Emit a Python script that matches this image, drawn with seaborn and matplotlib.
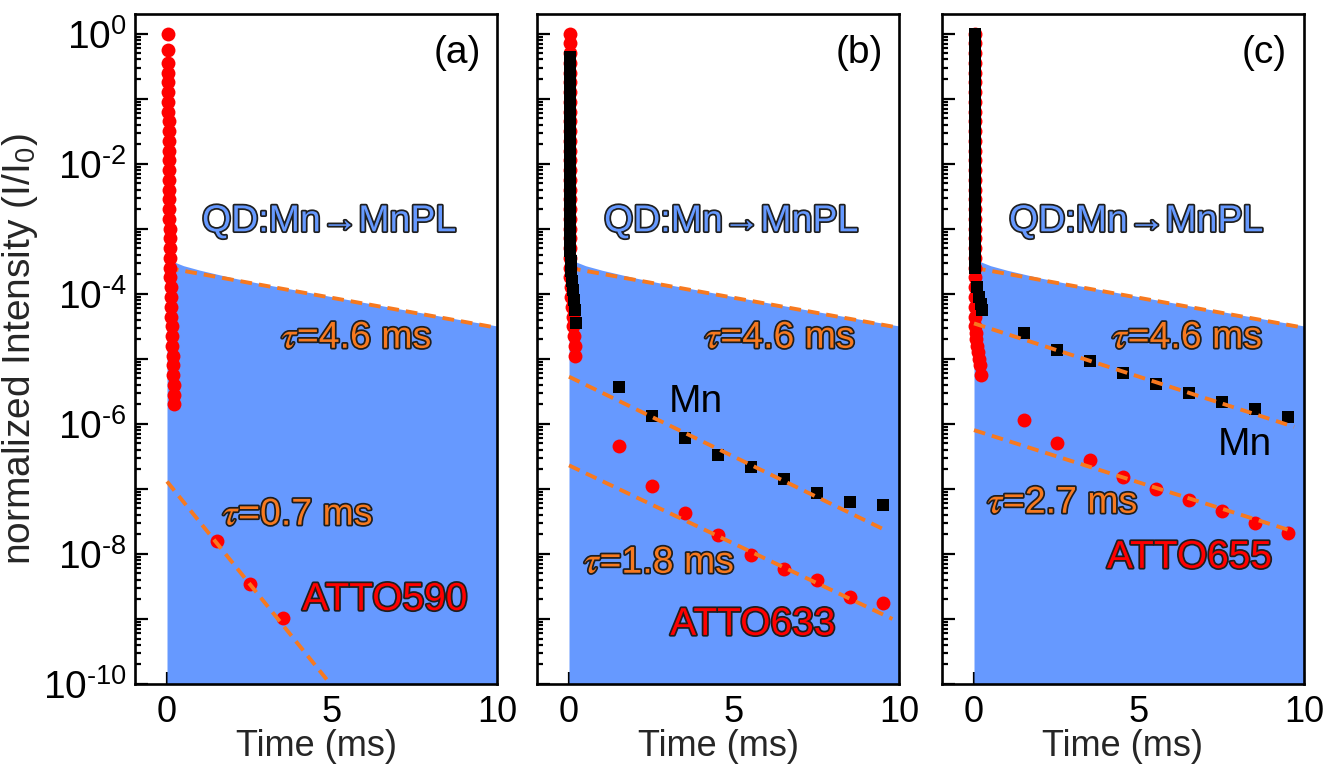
import numpy as np
import matplotlib
matplotlib.use('Agg')
import matplotlib.pyplot as plt
import matplotlib.patheffects as pe
from matplotlib.ticker import FixedLocator, FuncFormatter, MultipleLocator, NullFormatter
import seaborn as sns

# ---- data ----
# QD:Mn -> Mn PL decay (blue filled area)
qd_t = [0, 0.5, 1, 2, 3, 4, 5, 6, 7, 8, 9, 10]
qd_i = [3.4e-4, 2.7e-4, 2.3e-4, 1.75e-4, 1.38e-4, 1.12e-4, 9.0e-5, 7.3e-5, 5.9e-5, 4.8e-5, 3.9e-5, 3.2e-5]

# fast early-time decays (exponent of intensity)
a_red_t = [0.03, 0.03, 0.03, 0.03, 0.04, 0.04, 0.04, 0.04, 0.05, 0.05, 0.05, 0.05, 0.06,
           0.06, 0.06, 0.06, 0.07, 0.07, 0.07, 0.08, 0.08, 0.08, 0.09, 0.09, 0.10, 0.11,
           0.11, 0.12, 0.13, 0.14, 0.15, 0.16, 0.17, 0.18, 0.19, 0.20, 0.21, 0.22]
a_red_log = [0, -0.25, -0.45, -0.6, -0.75, -0.9, -1.05, -1.2, -1.35, -1.5, -1.65, -1.8, -1.95,
             -2.1, -2.25, -2.4, -2.55, -2.7, -2.85, -3.0, -3.15, -3.3, -3.45, -3.6, -3.75, -3.9,
             -4.05, -4.2, -4.35, -4.5, -4.65, -4.8, -4.95, -5.1, -5.25, -5.4, -5.55, -5.7]

b_red_t = [0.03, 0.03, 0.03, 0.03, 0.03, 0.03, 0.03, 0.03, 0.03, 0.03, 0.03, 0.03, 0.03, 0.03,
           0.03, 0.03, 0.03, 0.03, 0.03, 0.03, 0.03, 0.03, 0.03, 0.03, 0.03, 0.04, 0.05, 0.07,
           0.09, 0.11, 0.13, 0.15, 0.17, 0.18]
b_red_log = [0, -0.15, -0.3, -0.45, -0.6, -0.75, -0.9, -1.05, -1.2, -1.35, -1.5, -1.65, -1.8,
             -1.95, -2.1, -2.25, -2.4, -2.55, -2.7, -2.85, -3.0, -3.15, -3.3, -3.45, -3.6, -3.75,
             -3.9, -4.05, -4.2, -4.35, -4.5, -4.65, -4.8, -4.95]
b_blk_t = [0.03, 0.03, 0.03, 0.03, 0.03, 0.03, 0.03, 0.03, 0.03, 0.03, 0.03, 0.03, 0.03, 0.03,
           0.03, 0.03, 0.03, 0.03, 0.03, 0.03, 0.04, 0.05, 0.07, 0.10, 0.13, 0.16, 0.19, 0.21]
b_blk_log = [-0.36, -0.5, -0.65, -0.8, -0.95, -1.1, -1.25, -1.4, -1.55, -1.7, -1.85, -2.0, -2.15,
             -2.3, -2.45, -2.6, -2.75, -2.9, -3.05, -3.2, -3.35, -3.5, -3.65, -3.8, -3.95, -4.1,
             -4.25, -4.45]

c_red_t = [0.02, 0.02, 0.02, 0.02, 0.02, 0.02, 0.02, 0.02, 0.02, 0.02, 0.02, 0.02, 0.02, 0.02,
           0.02, 0.02, 0.02, 0.02, 0.02, 0.02, 0.02, 0.02, 0.02, 0.02, 0.02, 0.02, 0.02, 0.02,
           0.02, 0.02, 0.03, 0.05, 0.07, 0.10, 0.13, 0.16, 0.19, 0.22]
c_red_log = [0, -0.15, -0.3, -0.45, -0.6, -0.75, -0.9, -1.05, -1.2, -1.35, -1.5, -1.65, -1.8,
             -1.95, -2.1, -2.25, -2.4, -2.55, -2.7, -2.85, -3.0, -3.15, -3.3, -3.45, -3.6, -3.75,
             -3.9, -4.05, -4.2, -4.35, -4.5, -4.6, -4.7, -4.8, -4.9, -5.0, -5.1, -5.25]
c_blk_t = [0.02, 0.02, 0.02, 0.02, 0.02, 0.02, 0.02, 0.02, 0.02, 0.02, 0.02, 0.02, 0.02, 0.02,
           0.02, 0.02, 0.02, 0.02, 0.02, 0.02, 0.02, 0.02, 0.02, 0.02, 0.03, 0.08, 0.15, 0.22,
           0.25]
c_blk_log = [0, -0.15, -0.3, -0.45, -0.6, -0.75, -0.9, -1.05, -1.2, -1.35, -1.5, -1.65, -1.8,
             -1.95, -2.1, -2.25, -2.4, -2.55, -2.7, -2.85, -3.0, -3.15, -3.3, -3.45, -3.6, -3.9,
             -4.05, -4.15, -4.25]

# long-time points (ms)
t_sparse = [1.5, 2.5, 3.5, 4.5, 5.5, 6.5, 7.5, 8.5, 9.5]
atto590 = [1.6e-8, 3.5e-9, 1.05e-9]
atto633 = [4.5e-7, 1.1e-7, 4.2e-8, 1.96e-8, 9.6e-9, 5.8e-9, 4.0e-9, 2.15e-9, 1.74e-9]
mn_b = [3.7e-6, 1.3e-6, 6.0e-7, 3.3e-7, 2.15e-7, 1.4e-7, 8.5e-8, 6.3e-8, 5.7e-8]
atto655 = [1.15e-6, 5.1e-7, 2.8e-7, 1.5e-7, 1.0e-7, 6.8e-8, 4.5e-8, 3.0e-8, 2.1e-8]
mn_c = [2.5e-5, 1.38e-5, 9.1e-6, 6.0e-6, 4.1e-6, 3.0e-6, 2.2e-6, 1.7e-6, 1.26e-6]

# single-exponential fits (end points)
fit_qd_t, fit_qd_i = [0, 10], [2.5e-4, 3.0e-5]
fit_a_t, fit_a_i = [0, 4.95], [1.3e-7, 1.0e-10]
fit_b_mn_t, fit_b_mn_i = [0, 9.6], [5.3e-6, 2.3e-8]
fit_b_red_t, fit_b_red_i = [0, 9.8], [2.3e-7, 1.0e-9]
fit_c_mn_t, fit_c_mn_i = [0, 9.7], [3.5e-5, 9.0e-7]
fit_c_red_t, fit_c_red_i = [0, 9.7], [8.0e-7, 2.2e-8]

FILL = '#6699FF'
ORANGE = '#F7791F'
RED = '#FF0000'

sns.set_style('ticks')
plt.rcParams['font.family'] = ['Liberation Sans', 'DejaVu Sans']
plt.rcParams['mathtext.fontset'] = 'stix'

fig = plt.figure(figsize=(13.28, 7.67), dpi=100)
lefts = [135, 537, 942]
axes = [fig.add_axes([l / 1328, (767 - 684) / 767, 362 / 1328, 670 / 767]) for l in lefts]

outline = [pe.Stroke(linewidth=2.5, foreground='#1e1e1e'), pe.Normal()]


def label(ax, x, y, s, color, size=27, stroke=True):
    ax.text(x, y, s, color=color, fontsize=size, ha='center', va='center', zorder=10,
            path_effects=outline if stroke else None)


def red_dots(ax, t, vals, zorder=4):
    sns.scatterplot(x=t, y=vals, ax=ax, color=RED, marker='o', s=100, linewidth=0, zorder=zorder)


def black_squares(ax, t, vals, zorder=5):
    sns.scatterplot(x=t, y=vals, ax=ax, color='black', marker='s', s=68, linewidth=0, zorder=zorder)


def fit_line(ax, t, vals, zorder=6):
    sns.lineplot(x=t, y=vals, ax=ax, color=ORANGE, linewidth=2.8, linestyle=(0, (3, 1.8)), zorder=zorder)


def ytick_text(v, pos):
    e = int(round(np.log10(v)))
    if e % 2:
        return ''
    return r'$\mathregular{10^{%s}}$' % str(e).replace('-', '\u2010')


def style_axis(ax, show_y):
    ax.set_yscale('log')
    ax.set_xlim(-0.97, 10)
    ax.set_ylim(1e-10, 2)
    decades = 10.0 ** np.arange(-10, 1)
    ax.yaxis.set_major_locator(FixedLocator(decades))
    ax.yaxis.set_minor_locator(FixedLocator(np.outer(decades[:-1], np.arange(2, 10)).ravel()))
    ax.yaxis.set_minor_formatter(NullFormatter())
    if show_y:
        ax.yaxis.set_major_formatter(FuncFormatter(ytick_text))
    else:
        ax.tick_params(axis='y', labelleft=False)
    ax.xaxis.set_major_locator(MultipleLocator(5))
    ax.xaxis.set_minor_locator(MultipleLocator(2.5))
    ax.tick_params(which='both', direction='in', top=False, right=False, width=1.6, colors='black')
    ax.tick_params(which='major', length=9, pad=6)
    ax.tick_params(which='minor', length=4.5)
    ax.tick_params(axis='x', labelsize=26, pad=8)
    ax.tick_params(axis='y', labelsize=28)
    for sp in ax.spines.values():
        sp.set_linewidth(1.9)
        sp.set_color('black')
    ax.set_xlabel('Time (ms)', fontsize=26, labelpad=-1)
    ax.set_ylabel('')


for ax in axes:
    ax.set_yscale('log')
    ax.fill_between(qd_t, qd_i, 1e-12, color=FILL, linewidth=0, zorder=1)
    fit_line(ax, fit_qd_t, fit_qd_i, zorder=2)

# (a)
ax = axes[0]
red_dots(ax, a_red_t, 10.0 ** np.array(a_red_log))
red_dots(ax, t_sparse[:3], atto590)
fit_line(ax, fit_a_t, fit_a_i)

# (b)
ax = axes[1]
red_dots(ax, b_red_t, 10.0 ** np.array(b_red_log))
black_squares(ax, b_blk_t, 10.0 ** np.array(b_blk_log))
black_squares(ax, t_sparse, mn_b)
red_dots(ax, t_sparse, atto633)
fit_line(ax, fit_b_mn_t, fit_b_mn_i)
fit_line(ax, fit_b_red_t, fit_b_red_i)

# (c)
ax = axes[2]
red_dots(ax, c_red_t, 10.0 ** np.array(c_red_log))
black_squares(ax, c_blk_t, 10.0 ** np.array(c_blk_log))
black_squares(ax, t_sparse, mn_c)
red_dots(ax, t_sparse, atto655)
fit_line(ax, fit_c_mn_t, fit_c_mn_i)
fit_line(ax, fit_c_red_t, fit_c_red_i)

for i, ax in enumerate(axes):
    style_axis(ax, i == 0)
    label(ax, 4.92, 1.3e-3, 'QD:Mn→MnPL', FILL, size=27)
    label(ax, 8.8, 0.5, '(%s)' % 'abc'[i], 'black', size=28, stroke=False)

axes[0].set_ylabel(r'normalized Intensity (I/I$_\mathregular{0}$)', fontsize=28, labelpad=2)

label(axes[0], 5.75, 2.1e-5, r'$\tau$=4.6 ms', ORANGE)
label(axes[0], 3.97, 4.0e-8, r'$\tau$=0.7 ms', ORANGE)
label(axes[0], 6.6, 1.96e-9, 'ATTO590', RED, size=28)

label(axes[1], 6.4, 2.1e-5, r'$\tau$=4.6 ms', ORANGE)
label(axes[1], 3.83, 2.2e-6, 'Mn', 'black', size=28, stroke=False)
label(axes[1], 2.74, 7.3e-9, r'$\tau$=1.8 ms', ORANGE)
label(axes[1], 5.57, 8.1e-10, 'ATTO633', RED, size=28)

label(axes[2], 6.47, 2.1e-5, r'$\tau$=4.6 ms', ORANGE)
label(axes[2], 8.22, 4.8e-7, 'Mn', 'black', size=28, stroke=False)
label(axes[2], 2.69, 6.1e-8, r'$\tau$=2.7 ms', ORANGE)
label(axes[2], 6.53, 8.7e-9, 'ATTO655', RED, size=28)

fig.savefig('out.png', dpi=100)
